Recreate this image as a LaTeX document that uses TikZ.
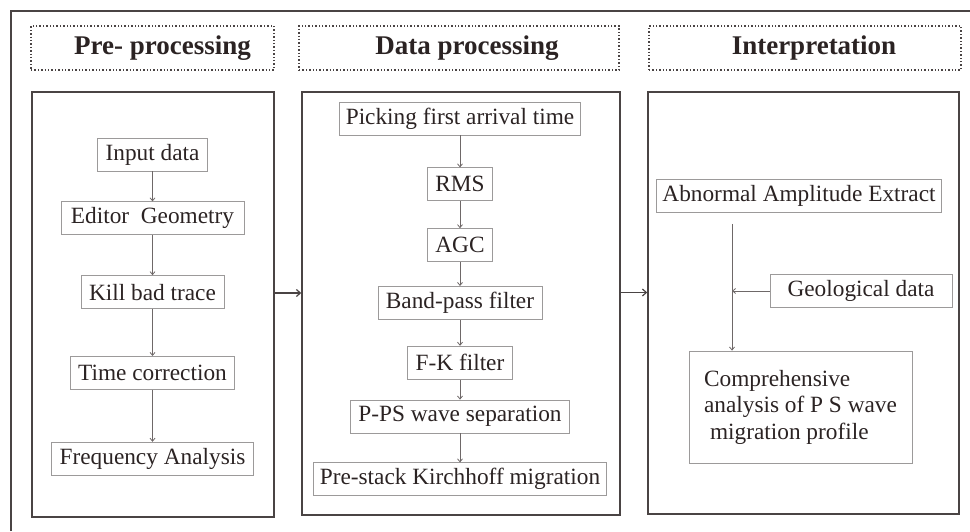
\documentclass[tikz,border=0pt]{standalone}
\usepackage{fontspec}
\setmainfont{Liberation Serif}
\usepackage{xcolor}
\usetikzlibrary{arrows.meta, positioning}

\definecolor{ink}{HTML}{2B2323}
\definecolor{frameline}{HTML}{4A4444}
\definecolor{boxline}{HTML}{9C9A9A}
\definecolor{flowline}{HTML}{6E6868}

\begin{document}
\begin{tikzpicture}[
  x=1pt, y=1pt,
  node distance=30pt,
  titlebox/.style={rectangle, draw=frameline, dotted, line width=1.4pt,
                   minimum height=44pt, inner sep=0pt},
  titletext/.style={font=\bfseries\fontsize{27}{30}\selectfont, text=ink},
  panel/.style={rectangle, draw=frameline, line width=1.5pt, inner sep=0pt},
  stepbox/.style={rectangle, draw=boxline, line width=0.8pt, minimum height=33pt,
                  inner xsep=8pt, inner ysep=0pt, text=ink,
                  font=\fontsize{23.3}{26.5}\selectfont},
  flow/.style={-{Straight Barb[length=3pt,width=5pt]}, draw=flowline, line width=0.8pt},
  link/.style={-{Straight Barb[length=4pt,width=7pt]}, draw=frameline, line width=1.2pt}
]
\useasboundingbox (0,0) rectangle (970,531);

% outer frame
\draw[frameline, line width=1.5pt] (11,0) -- (11,520) -- (970,520);

% headings
\node[titlebox, minimum width=243pt] (t1) at (152.5,483) {};
\node[titlebox, minimum width=320pt] (t2) at (459,483) {};
\node[titlebox, minimum width=312pt] (t3) at (805,483) {};
\node[titletext] at ([xshift=10pt]t1.center) {Pre- processing};
\node[titletext] at ([xshift=8pt]t2.center) {Data processing};
\node[titletext] at ([xshift=9pt]t3.center) {Interpretation};

% panels
\node[panel, minimum width=242pt, minimum height=425pt] (pre) at (153,226.5) {};
\node[panel, minimum width=318pt, minimum height=423pt] (data) at (461,227.5) {};
\node[panel, minimum width=311pt, minimum height=422pt] (interp) at (803.5,228) {};

% pre-processing
\node[stepbox] (input) at (152.5,376.5) {Input data};
\node[stepbox, below=30pt of input, inner xsep=10pt] (geom) {Editor~~Geometry};
\node[stepbox, below=40pt of geom] (kill) {Kill bad trace};
\node[stepbox, below=47pt of kill] (timecor) {Time correction};
\node[stepbox, below=52pt of timecor] (freq) {Frequency Analysis};

\draw[flow] (input) -- (geom);
\draw[flow] (geom) -- (kill);
\draw[flow] (kill) -- (timecor);
\draw[flow] (timecor) -- (freq);

% data processing
\node[stepbox, inner xsep=6pt] (pick) at (460,412.5) {Picking first arrival time};
\node[stepbox, below=32pt of pick] (rms) {RMS};
\node[stepbox, below=27pt of rms, minimum width=65pt] (agc) {AGC};
\node[stepbox, below=24pt of agc] (band) {Band-pass filter};
\node[stepbox, below=26pt of band] (fk) {F-K filter};
\node[stepbox, below=20pt of fk] (pps) {P-PS wave separation};
\node[stepbox, below=29pt of pps, inner xsep=6pt] (kirch) {Pre-stack Kirchhoff migration};

\draw[flow] (pick) -- (rms);
\draw[flow] (rms) -- (agc);
\draw[flow] (agc) -- (band);
\draw[flow] (band) -- (fk);
\draw[flow] (fk) -- (pps);
\draw[flow] (pps) -- (kirch);

% interpretation
\node[stepbox, inner xsep=6pt] (abn) at (799,335) {Abnormal Amplitude Extract};
\node[stepbox, minimum width=182pt] (geo) at (861,240) {Geological data};
\node[stepbox, minimum width=223pt, minimum height=112pt, align=left] (comp) at (800.5,124)
  {Comprehensive\\analysis of P S wave\\\hspace*{6pt}migration profile};
\coordinate (vtop) at (732,307);

\draw[flow] (vtop) -- (vtop |- comp.north);
\draw[flow] (geo.west) -- (vtop |- geo.west);

% between panels
\draw[link] ([yshift=11.5pt]pre.east) -- ([yshift=11.5pt]pre.east -| data.west);
\draw[link] ([yshift=11pt]data.east) -- ([yshift=11pt]data.east -| interp.west);
\end{tikzpicture}
\end{document}
